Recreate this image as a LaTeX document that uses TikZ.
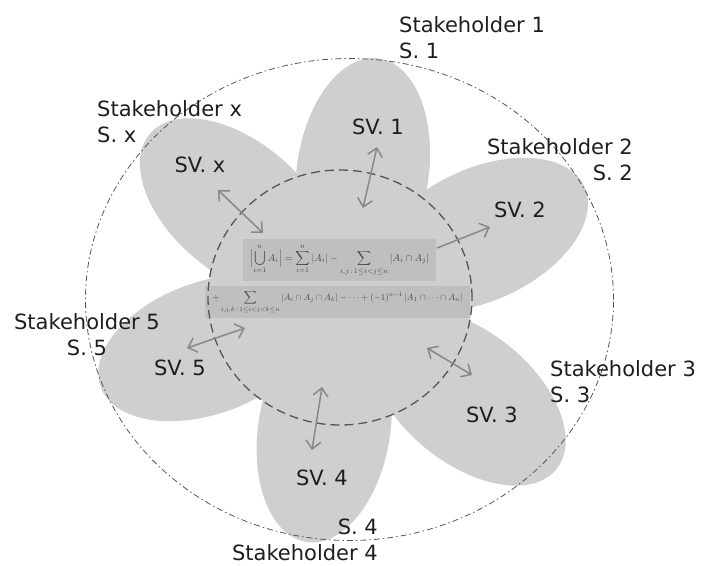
\documentclass[tikz,border=0pt]{standalone}
\usepackage{fontspec}
\usepackage{amsmath}
\usepackage{graphicx}
\newfontfamily\labfont{DejaVu Sans}
\usetikzlibrary{arrows.meta}
\definecolor{petalgray}{HTML}{CFCFCF}
\definecolor{boxgray}{HTML}{BFBFBF}
\definecolor{arrowgray}{HTML}{888888}
\definecolor{linegray}{HTML}{555555}
\definecolor{formgray}{HTML}{484848}
\definecolor{labblack}{HTML}{1E1E1E}
\begin{document}
\begin{tikzpicture}[x=1pt,y=1pt,
  petal/.style={fill=petalgray},
  lab/.style={font=\labfont\fontsize{21}{26}\selectfont, text=labblack, inner sep=0pt},
  svlab/.style={lab},
  formbox/.style={fill=boxgray, inner sep=0pt, text=formgray},
  outerring/.style={draw=linegray, line width=0.8pt, dash pattern=on 6pt off 3pt on 1.5pt off 3pt},
  innerring/.style={draw=linegray, line width=1.3pt, dash pattern=on 9pt off 5pt},
  twoway/.style={draw=arrowgray, line width=1.5pt, {Straight Barb[length=8pt,width=15pt]}-{Straight Barb[length=8pt,width=15pt]}},
  oneway/.style={draw=arrowgray, line width=1.5pt, -{Straight Barb[length=8pt,width=15pt]}}]
\useasboundingbox (0,0) rectangle (701,-565);
% petals
\begin{scope}[shift={(345,-298)}]
  \fill[petal, rotate=82]  (128,0) ellipse [x radius=114, y radius=66];
  \fill[petal, rotate=25]  (150,0) ellipse [x radius=114, y radius=66];
  \fill[petal, rotate=-39] (158,0) ellipse [x radius=114, y radius=66];
  \fill[petal, rotate=-99] (133,0) ellipse [x radius=114, y radius=66];
  \fill[petal, rotate=200] (146,0) ellipse [x radius=114, y radius=66];
  \fill[petal, rotate=140] (141,0) ellipse [x radius=114, y radius=66];
\end{scope}
\fill[petal] (340,-297.5) ellipse [x radius=132, y radius=127.5];
% formula boxes
\node[formbox, minimum width=193pt, minimum height=42pt] (f1) at (339.5,-260)
  {\resizebox{179pt}{!}{$\displaystyle \Bigl|\bigcup_{i=1}^{n} A_i\Bigr| = \sum_{i=1}^{n}|A_i| - \sum_{i,j\,:\,1\le i<j\le n}|A_i\cap A_j|$}};
\node[formbox, minimum width=265pt, minimum height=32pt] (f2) at (337.5,-302)
  {\resizebox{250pt}{!}{$\displaystyle +\sum_{i,j,k\,:\,1\le i<j<k\le n}|A_i\cap A_j\cap A_k| - \cdots + (-1)^{n-1}\,|A_1\cap\cdots\cap A_n|$}};
% rings
\draw[outerring] (349.5,-299.5) ellipse [x radius=264, y radius=241];
\draw[innerring] (340,-297.5) ellipse [x radius=132, y radius=127.5];
% SV labels
\node[svlab] (sv1) at (378,-127) {SV. 1};
\node[svlab] (sv2) at (520,-210) {SV. 2};
\node[svlab] (sv3) at (492,-415) {SV. 3};
\node[svlab] (sv4) at (322,-478) {SV. 4};
\node[svlab] (sv5) at (180,-368) {SV. 5};
\node[svlab] (svx) at (200,-165) {SV. x};
% stakeholder labels (base = baseline of last line)
\node[lab, anchor=base west, align=left]  (sh1) at (399,-58)  {Stakeholder 1\\S. 1};
\node[lab, anchor=base east, align=right] (sh2) at (633,-180) {Stakeholder 2\\S. 2};
\node[lab, anchor=base west, align=left]  (sh3) at (550,-402) {Stakeholder 3\\S. 3};
\node[lab, anchor=base east, align=right] (sh4) at (378,-560) {S. 4\\Stakeholder 4};
\node[lab, anchor=base, align=center]     (sh5) at (87,-355)  {Stakeholder 5\\S. 5};
\node[lab, anchor=base west, align=left]  (shx) at (97,-142)  {Stakeholder x\\S. x};
% arrow ends
\coordinate (a1s) at (363,-208); \coordinate (a1e) at (377,-147);
\coordinate (axs) at (263,-233); \coordinate (axe) at (218,-190);
\coordinate (a2s) at (437,-248); \coordinate (a2e) at (490,-227);
\coordinate (a5s) at (245,-328); \coordinate (a5e) at (187,-348);
\coordinate (a4s) at (322,-387); \coordinate (a4e) at (312,-450);
\coordinate (a3s) at (427,-348); \coordinate (a3e) at (472,-375);
\draw[twoway] (a1s) -- (a1e);
\draw[twoway] (axs) -- (axe);
\draw[oneway] (a2s) -- (a2e);
\draw[twoway] (a5s) -- (a5e);
\draw[twoway] (a4s) -- (a4e);
\draw[twoway] (a3s) -- (a3e);
\end{tikzpicture}
\end{document}
